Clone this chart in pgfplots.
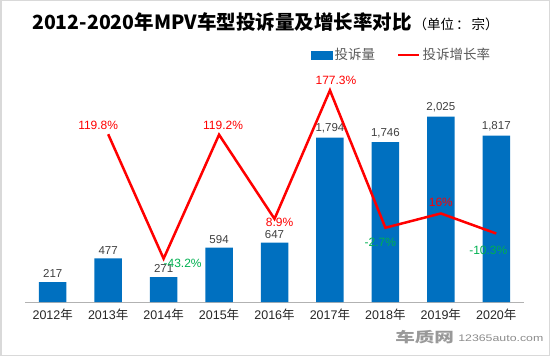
\documentclass[border=0pt]{standalone}
\usepackage{pgfplots}
\pgfplotsset{compat=1.18}
\usepackage{fontspec}
\setmainfont{Liberation Sans}
\newfontfamily\cjk{Noto Sans CJK SC}
\definecolor{barblue}{HTML}{0070C0}
\definecolor{lred}{HTML}{FF0000}
\definecolor{lgreen}{HTML}{00B050}
\definecolor{lbl}{HTML}{404040}
\definecolor{tickc}{HTML}{262626}
\definecolor{legc}{HTML}{595959}
\begin{document}
\begin{tikzpicture}[x=1bp,y=1bp,
  pctlab/.style={font=\fontsize{12bp}{14bp}\selectfont, inner sep=0pt, anchor=center}]
\path[use as bounding box] (0,0) rectangle (550,356);
\draw[draw=black!15, line width=1.5bp] (0.75,0.75) rectangle (549.25,355.25);
% title
\node[anchor=base west, inner sep=0pt] at (32,327) {{\cjk\bfseries\fontsize{19.5bp}{22bp}\selectfont 2012-2020年MPV车型投诉量及增长率对比}\hspace{2bp}{\cjk\fontsize{13.5bp}{15bp}\selectfont （单位\hspace{2bp}：\hspace{2bp}宗）}};
% watermark
\node[anchor=west, inner sep=0pt, xscale=1.4, text=black!40] at (395,19) {\cjk\bfseries\fontsize{14bp}{16bp}\selectfont 车质网};
\node[anchor=west, inner sep=0pt, xscale=1.3, text=black!45] at (458,18) {\fontsize{9.5bp}{11bp}\selectfont 12365auto.com};
\begin{axis}[at={(25bp,54bp)}, anchor=south west, scale only axis, width=499bp, height=229bp,
  xmin=-0.5, xmax=8.5, ymin=0, ymax=2500,
  axis y line=none, axis x line=bottom,
  x axis line style={draw=black!30, line width=1bp, -},
  xtick={0,...,8},
  xticklabels={2012{\cjk 年},2013{\cjk 年},2014{\cjk 年},2015{\cjk 年},2016{\cjk 年},2017{\cjk 年},2018{\cjk 年},2019{\cjk 年},2020{\cjk 年}},
  major tick length=0pt,
  xticklabel style={font=\fontsize{12.5bp}{14bp}\selectfont, text=tickc, yshift=-3bp},
  ytick=\empty,
  ybar, bar width=27.5bp,
  nodes near coords={\pgfmathprintnumber[assume math mode=true,1000 sep={,}]{\pgfplotspointmeta}},
  nodes near coords style={font=\fontsize{11.5bp}{13bp}\selectfont, text=lbl, inner sep=0pt, yshift=4bp, anchor=south},
  clip=false]
\addplot[fill=barblue, draw=none] coordinates {(0,217) (1,477) (2,271) (3,594) (4,647) (5,1794) (6,1746) (7,2025) (8,1817)};
\end{axis}
\begin{axis}[at={(25bp,54bp)}, anchor=south west, scale only axis, width=499bp, height=229bp,
  xmin=-0.5, xmax=8.5, ymin=-100, ymax=200, hide axis, clip=false,
  legend columns=2,
  legend cell align=left,
  legend style={at={(0.573,1.0786)}, anchor=west, draw=none, fill=none, inner sep=0pt,
    font=\cjk\fontsize{13.5bp}{15bp}\selectfont, text=legc,
    /tikz/every even column/.append style={column sep=20bp}}]
\addlegendimage{legend image code/.code={\fill[barblue] (0bp,-4bp) rectangle (21bp,4bp);}}
\addlegendentry{投诉量}
\addplot[lred, line width=2.5bp, mark=none, legend image code/.code={\draw[lred, line width=2.5bp] (0bp,0bp) -- (21bp,0bp);}]
  coordinates {(1,119.8) (2,-43.2) (3,119.2) (4,8.9) (5,177.3) (6,-2.7) (7,16) (8,-10.3)};
\addlegendentry{投诉增长率}
\node[pctlab, text=lred, xshift=-10bp, yshift=9bp] at (axis cs:1,119.8) {119.8\%};
\node[pctlab, text=lgreen, xshift=19bp, yshift=-4.5bp] at (axis cs:2,-43.2) {-43.2\%};
\node[pctlab, text=lred, xshift=4bp, yshift=9.5bp] at (axis cs:3,119.2) {119.2\%};
\node[pctlab, text=lred, xshift=5bp, yshift=-3bp] at (axis cs:4,8.9) {8.9\%};
\node[pctlab, text=lred, xshift=6bp, yshift=10.4bp] at (axis cs:5,177.3) {177.3\%};
\node[pctlab, text=lgreen, xshift=-5bp, yshift=-15bp] at (axis cs:6,-2.7) {-2.7\%};
\node[pctlab, text=lred, xshift=0bp, yshift=11.5bp] at (axis cs:7,16) {16\%};
\node[pctlab, text=lgreen, xshift=-8bp, yshift=-16.4bp] at (axis cs:8,-10.3) {-10.3\%};
\end{axis}
\end{tikzpicture}
\end{document}
